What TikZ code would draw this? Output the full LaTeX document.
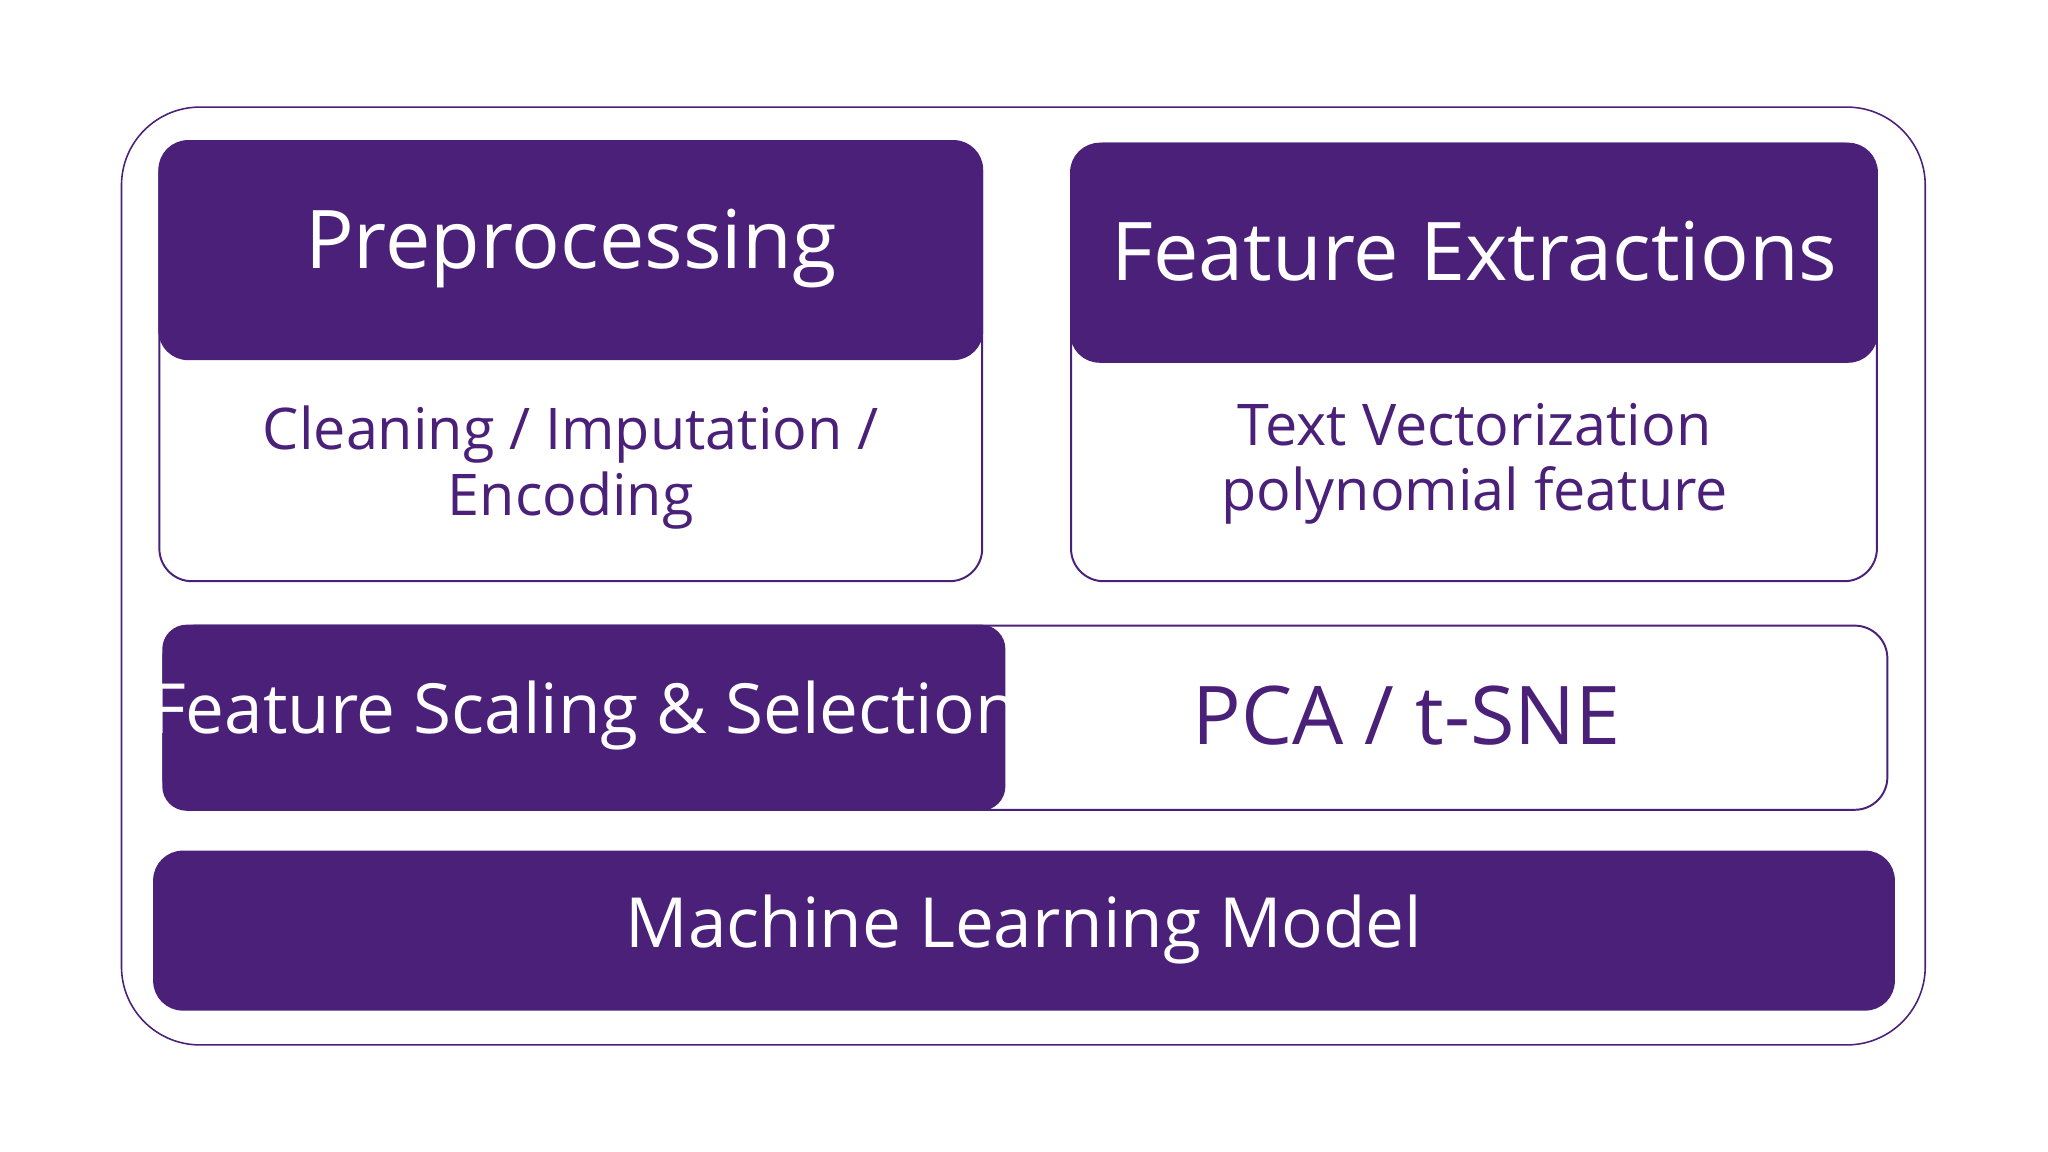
\documentclass[tikz,border=0pt]{standalone}
\usepackage{fontspec}
\setmainfont{Open Sans}
\definecolor{pur}{HTML}{4A2079}
\begin{document}
\begin{tikzpicture}[x=1pt,y=-1pt,
  outl/.style={draw=pur,line width=1.5pt,fill=white},
  fillb/.style={fill=pur,draw=pur,line width=1.5pt},
  wt/.style={text=white},
  pt/.style={text=pur,align=center}]
\useasboundingbox (0,0) rectangle (1568,882);
\fill[white] (0,0) rectangle (1568,882);
\draw[draw=pur,line width=1.2pt,rounded corners=60] (93,82) rectangle (1474,800);
% Preprocessing
\draw[outl,rounded corners=25] (122,108) rectangle (752,445);
\draw[fillb,rounded corners=22] (122,108) rectangle (752,275);
\node[wt,font=\fontsize{62}{70}\selectfont] (pre) at (437,190) {Preprocessing};
\node[pt,font=\fontsize{44}{50}\selectfont] (pred) at (437,358) {Cleaning / Imputation /\\Encoding};
% Feature Extractions
\draw[outl,rounded corners=25] (820,110) rectangle (1437,445);
\draw[fillb,rounded corners=22] (820,110) rectangle (1437,277);
\node[wt,font=\fontsize{62}{70}\selectfont] (fe) at (1129,192) {Feature Extractions};
\node[pt,font=\fontsize{44}{50}\selectfont] (fed) at (1129,355) {Text Vectorization\\polynomial feature};
% Middle
\draw[outl,rounded corners=25] (125,479) rectangle (1445,620);
\draw[fillb,rounded corners=18] (125,479) rectangle (769,620);
\node[wt,font=\fontsize{53}{60}\selectfont] (fs) at (447,548) {Feature Scaling \& Selection};
\node[pt,font=\fontsize{62}{70}\selectfont] (pca) at (1077,548) {PCA / t-SNE};
% ML
\draw[fillb,rounded corners=22] (118,652) rectangle (1450,773);
\node[wt,font=\fontsize{53}{60}\selectfont] (ml) at (784,712) {Machine Learning Model};
\end{tikzpicture}
\end{document}
